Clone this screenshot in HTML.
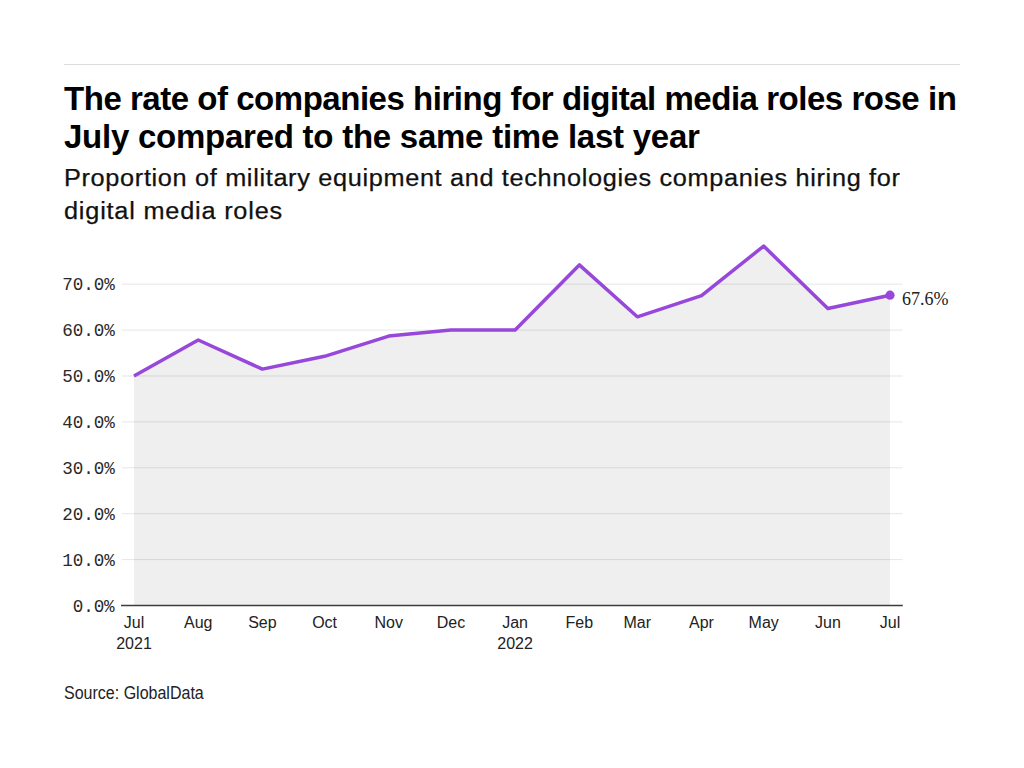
<!DOCTYPE html>
<html><head><meta charset="utf-8">
<style>
html,body{margin:0;padding:0;background:#fff;width:1024px;height:768px;overflow:hidden}
body{position:relative;font-family:"Liberation Sans",sans-serif;color:#000}
.rule{position:absolute;left:64px;top:64px;width:896px;height:1px;background:#dcdcdc}
.t{position:absolute;white-space:nowrap}
#t1,#t2{left:64px;font-weight:bold;font-size:33px;line-height:38px;color:#000}
#t1{top:80px;letter-spacing:-0.47px}
#t2{top:118px;letter-spacing:-0.25px}
#s1,#s2{left:64px;font-size:23px;line-height:33px;color:#111;-webkit-text-stroke:0.25px #111}
#s1{top:162px;letter-spacing:0.6px;transform:scaleX(1.1);transform-origin:0 0}
#s2{top:195px;letter-spacing:0.72px;transform:scaleX(1.1);transform-origin:0 0}
#src{left:64px;top:683px;font-size:17.5px;line-height:20px;color:#222;transform:scaleX(0.915);transform-origin:0 0}
svg{position:absolute;left:0;top:0}
.ya{font-family:"Liberation Mono",monospace;font-size:17.6px;letter-spacing:-0.1px;fill:#2a2a2a}
.xa{font-family:"Liberation Sans",sans-serif;font-size:16px;fill:#222}
.vl{font-family:"Liberation Serif",serif;font-size:18px;fill:#222}
</style></head><body>
<div class="rule"></div>
<div class="t" id="t1">The rate of companies hiring for digital media roles rose in</div>
<div class="t" id="t2">July compared to the same time last year</div>
<div class="t" id="s1">Proportion of military equipment and technologies companies hiring for</div>
<div class="t" id="s2">digital media roles</div>
<svg width="1024" height="768" viewBox="0 0 1024 768">
  <path fill="#efefef" d="M134.0,376.0 L198.21,340.01 L262.42,369.12 L324.55,356.3 L388.76,336.1 L450.9,330.1 L515.11,330.1 L579.32,264.92 L637.31,316.79 L701.52,295.68 L763.65,246.1 L827.86,308.53 L890.0,295.22 L890,605 L134,605 Z"/>
  <g stroke="rgba(0,0,0,0.1)" stroke-width="1">
    <line x1="122" y1="284.2" x2="902.5" y2="284.2"/>
    <line x1="122" y1="330.1" x2="902.5" y2="330.1"/>
    <line x1="122" y1="376.0" x2="902.5" y2="376.0"/>
    <line x1="122" y1="421.9" x2="902.5" y2="421.9"/>
    <line x1="122" y1="467.8" x2="902.5" y2="467.8"/>
    <line x1="122" y1="513.7" x2="902.5" y2="513.7"/>
    <line x1="122" y1="559.6" x2="902.5" y2="559.6"/>
  </g>
  <line x1="121" y1="605.5" x2="902.8" y2="605.5" stroke="#3c3c3c" stroke-width="1.3"/>
  <path fill="none" stroke="#9747d9" stroke-width="3.5" stroke-linejoin="round" d="M134.0,376.0 L198.21,340.01 L262.42,369.12 L324.55,356.3 L388.76,336.1 L450.9,330.1 L515.11,330.1 L579.32,264.92 L637.31,316.79 L701.52,295.68 L763.65,246.1 L827.86,308.53 L890.0,295.22"/>
  <circle cx="890" cy="295.22" r="4.6" fill="#9747d9"/>
  <text class="vl" x="902" y="305">67.6%</text>
  <g class="ya" text-anchor="end">
    <text x="114.6" y="290.30">70.0%</text>
    <text x="114.6" y="336.20">60.0%</text>
    <text x="114.6" y="382.10">50.0%</text>
    <text x="114.6" y="428.00">40.0%</text>
    <text x="114.6" y="473.90">30.0%</text>
    <text x="114.6" y="519.80">20.0%</text>
    <text x="114.6" y="565.70">10.0%</text>
    <text x="114.6" y="611.60">0.0%</text>
  </g>
  <g class="xa" text-anchor="middle">
    <text x="134" y="628.4">Jul</text>
    <text x="134" y="649">2021</text>
    <text x="198.2" y="628.4">Aug</text>
    <text x="262.4" y="628.4">Sep</text>
    <text x="324.6" y="628.4">Oct</text>
    <text x="388.8" y="628.4">Nov</text>
    <text x="450.9" y="628.4">Dec</text>
    <text x="515.1" y="628.4">Jan</text>
    <text x="515.1" y="649">2022</text>
    <text x="579.3" y="628.4">Feb</text>
    <text x="637.3" y="628.4">Mar</text>
    <text x="701.5" y="628.4">Apr</text>
    <text x="763.7" y="628.4">May</text>
    <text x="827.9" y="628.4">Jun</text>
    <text x="890" y="628.4">Jul</text>
  </g>
</svg>
<div class="t" id="src">Source: GlobalData</div>
</body></html>
